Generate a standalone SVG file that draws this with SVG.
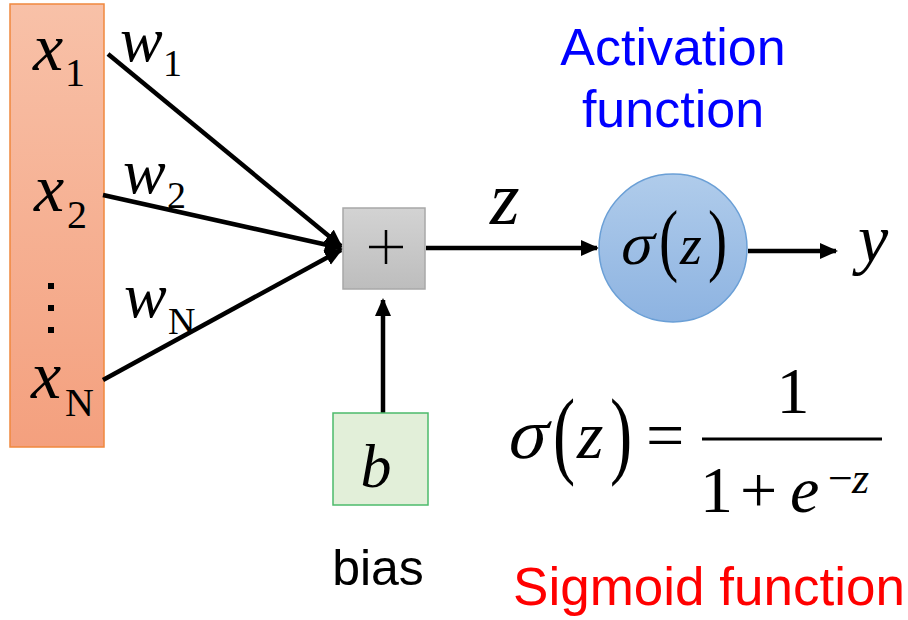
<svg xmlns="http://www.w3.org/2000/svg" width="908" height="620" viewBox="0 0 908 620">
<style>
.m{font-family:"Liberation Serif","Times New Roman",serif;fill:#000}
.i{font-style:italic}
.s{font-family:"Liberation Sans",Arial,sans-serif}
.c{stroke:#000;stroke-width:4.5;fill:none}
</style>
<defs>
<linearGradient id="go" x1="0" y1="0" x2="0" y2="1"><stop offset="0" stop-color="#f8c1a8"/><stop offset="1" stop-color="#f4a07e"/></linearGradient>
<linearGradient id="gg" x1="0" y1="0" x2="0" y2="1"><stop offset="0" stop-color="#d3d3d3"/><stop offset="1" stop-color="#bdbdbd"/></linearGradient>
<linearGradient id="gb" x1="0" y1="0" x2="0" y2="1"><stop offset="0" stop-color="#b0cceb"/><stop offset="1" stop-color="#8db3e1"/></linearGradient>
<marker id="ah" markerUnits="userSpaceOnUse" markerWidth="20" markerHeight="18" refX="16" refY="8" orient="auto"><path d="M0,0 L18,8 L0,16 z" fill="#000"/></marker>
</defs>

<g id="inputs">
<rect x="10" y="4" width="94" height="443" fill="url(#go)" stroke="#f0883e" stroke-width="1.5"/>
<text class="m i" x="33" y="70" font-size="68">x</text><text class="m" x="65" y="86" font-size="40">1</text>
<text class="m i" x="34" y="211" font-size="68">x</text><text class="m" x="67" y="228" font-size="40">2</text>
<rect x="48" y="283" width="6" height="6"/><rect x="48" y="305" width="6" height="6"/><rect x="48" y="327" width="6" height="6"/>
<text class="m i" x="31" y="398" font-size="68">x</text><text class="m" x="65" y="416" font-size="40">N</text>
</g>

<g id="weights">
<text class="m i" x="120" y="61" font-size="64">w</text><text class="m" x="163" y="76" font-size="38">1</text>
<text class="m i" x="123" y="193" font-size="64">w</text><text class="m" x="167" y="208" font-size="38">2</text>
<text class="m i" x="124" y="317" font-size="64">w</text><text class="m" x="168" y="334" font-size="38">N</text>
</g>

<g id="connectors">
<line class="c" x1="108" y1="54" x2="341" y2="246" marker-end="url(#ah)"/>
<line class="c" x1="103" y1="195" x2="341" y2="248" marker-end="url(#ah)"/>
<line class="c" x1="103" y1="380" x2="341" y2="250" marker-end="url(#ah)"/>
<line class="c" x1="426" y1="248" x2="597" y2="248" marker-end="url(#ah)"/>
<line class="c" x1="748" y1="251" x2="836" y2="251" marker-end="url(#ah)"/>
<line class="c" x1="383" y1="413" x2="383" y2="300" marker-end="url(#ah)"/>
</g>

<g id="sum">
<rect x="343" y="208" width="82" height="81" fill="url(#gg)" stroke="#a8a8a8" stroke-width="1.5"/>
<path d="M369,247 H403 M386,230 V264" stroke="#000" stroke-width="2.5"/>
</g>

<text id="z-label" class="m i" x="490" y="224" font-size="76">z</text>

<g id="activation">
<circle cx="673" cy="248" r="74" fill="url(#gb)" stroke="#6a9fd6" stroke-width="1.5"/>
<text class="m" font-size="60" transform="translate(618,264) skewX(-14)">σ</text>
<text class="m" font-size="80" transform="translate(659,266) scale(0.72,1)">(</text>
<text class="m i" x="680" y="264" font-size="56">z</text>
<text class="m" font-size="80" transform="translate(708,266) scale(0.72,1)">)</text>
</g>

<text id="y-label" class="m i" x="858" y="262" font-size="68">y</text>

<g id="bias">
<rect x="333" y="413" width="95" height="92" fill="#e2efd9" stroke="#4cbb6b" stroke-width="1.5"/>
<text class="m i" x="376" y="487" font-size="62" text-anchor="middle">b</text>
</g>
<text class="s" x="378" y="585" font-size="50" text-anchor="middle">bias</text>

<text class="s" x="673" y="65" font-size="52" text-anchor="middle" fill="#0000ff">Activation</text>
<text class="s" x="673" y="127" font-size="52" text-anchor="middle" fill="#0000ff">function</text>

<g id="formula">
<text class="m" font-size="72" transform="translate(505,458) skewX(-14)">σ</text>
<text class="m" font-size="98" transform="translate(553,466) scale(0.68,1)">(</text>
<text class="m i" x="577" y="458" font-size="68">z</text>
<text class="m" font-size="98" transform="translate(610,466) scale(0.68,1)">)</text>
<text class="m" x="646" y="458" font-size="68">=</text>
<line x1="702" y1="439" x2="882" y2="439" stroke="#000" stroke-width="3"/>
<text class="m" x="793" y="413" font-size="66" text-anchor="middle">1</text>
<text class="m" x="700" y="512" font-size="66">1</text>
<text class="m" x="740" y="512" font-size="66">+</text>
<text class="m i" x="790" y="512" font-size="66">e</text>
<text class="m" x="828" y="493" font-size="44">−</text>
<text class="m i" x="852" y="493" font-size="44">z</text>
</g>

<text class="s" x="709" y="605" font-size="53" text-anchor="middle" fill="#ff0000">Sigmoid function</text>
</svg>
